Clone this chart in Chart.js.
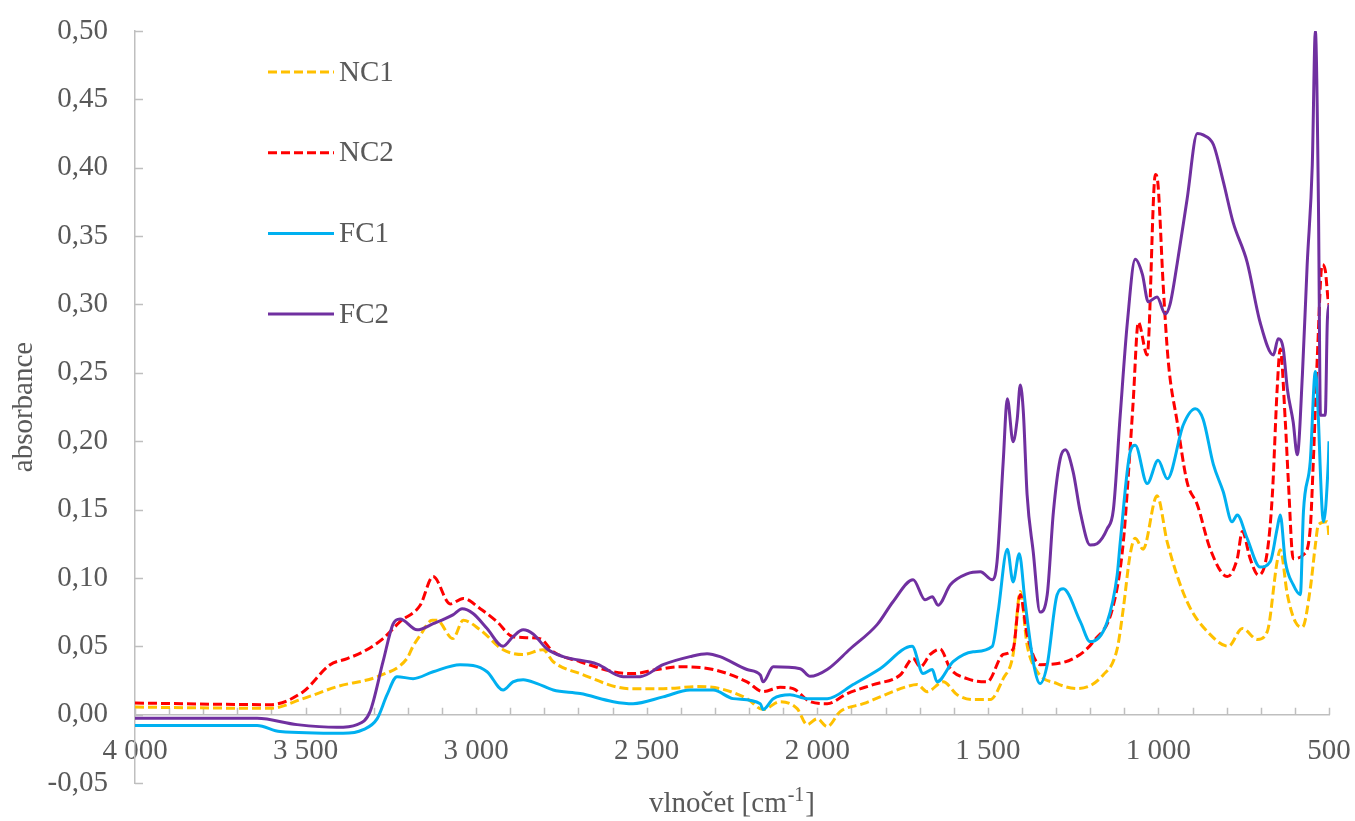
<!DOCTYPE html>
<html>
<head>
<meta charset="utf-8">
<script src="https://cdn.jsdelivr.net/npm/chart.js@4.4.1/dist/chart.umd.min.js"></script>
<style>
  body { margin: 0; background: #fff; }
  #wrap { width: 1355px; height: 821px; }
</style>
</head>
<body>
<div id="wrap"><canvas id="ftir" width="1355" height="821"></canvas></div>
<script>
// FTIR spektra
const nc1Wn  = [4000, 3604, 3507, 3408, 3282, 3203, 3185, 3164, 3129, 3115, 3068, 3038, 2988, 2921, 2862, 2804, 2774, 2695, 2549, 2452, 2352, 2285, 2206, 2159, 2109, 2059, 2030, 2000, 1971, 1933, 1865, 1816, 1737, 1707, 1678, 1631, 1590, 1543, 1493, 1455, 1426, 1405, 1385, 1355, 1297, 1238, 1162, 1121, 1103, 1083, 1068, 1045, 1004, 974, 916, 848, 795, 754, 710, 681, 652, 643, 622, 599, 578, 555, 540, 531, 505, 500];
const nc1Abs = [0.0055, 0.0046, 0.0117, 0.0205, 0.0285, 0.041, 0.050, 0.058, 0.069, 0.069, 0.0556, 0.069, 0.062, 0.0475, 0.044, 0.0475, 0.0387, 0.030, 0.019, 0.019, 0.0205, 0.019, 0.0117, 0.0037, 0.0095, 0.0044, -0.0073, -0.003, -0.0088, 0.0022, 0.008, 0.013, 0.0205, 0.022, 0.0168, 0.024, 0.0146, 0.011, 0.011, 0.0263, 0.044, 0.090, 0.051, 0.0314, 0.0227, 0.019, 0.029, 0.048, 0.0775, 0.117, 0.129, 0.121, 0.160, 0.126, 0.0826, 0.0585, 0.050, 0.063, 0.055, 0.0607, 0.112, 0.1206, 0.0877, 0.068, 0.064, 0.092, 0.124, 0.139, 0.141, 0.13];

const nc2Wn  = [4000, 3604, 3507, 3428, 3378, 3331, 3273, 3223, 3164, 3126, 3076, 3038, 2988, 2939, 2892, 2813, 2774, 2695, 2598, 2540, 2469, 2402, 2305, 2206, 2159, 2109, 2071, 2021, 1971, 1912, 1836, 1757, 1719, 1698, 1669, 1640, 1610, 1561, 1502, 1455, 1426, 1405, 1385, 1347, 1250, 1191, 1132, 1103, 1083, 1074, 1059, 1033, 1009, 1001, 986, 971, 945, 916, 886, 848, 798, 769, 754, 731, 707, 681, 666, 652, 643, 628, 619, 605, 575, 555, 546, 534, 520, 511, 502, 500];
const nc2Abs = [0.0085, 0.0073, 0.0168, 0.0365, 0.041, 0.046, 0.0556, 0.068, 0.080, 0.101, 0.081, 0.085, 0.0775, 0.068, 0.057, 0.0556, 0.046, 0.0387, 0.0314, 0.030, 0.033, 0.035, 0.033, 0.024, 0.0168, 0.020, 0.019, 0.0095, 0.008, 0.0154, 0.022, 0.029, 0.041, 0.035, 0.044, 0.048, 0.0336, 0.0263, 0.024, 0.044, 0.048, 0.0877, 0.0585, 0.0365, 0.041, 0.0534, 0.080, 0.126, 0.1945, 0.229, 0.287, 0.263, 0.395, 0.387, 0.314, 0.258, 0.214, 0.170, 0.1535, 0.121, 0.101, 0.114, 0.134, 0.114, 0.102, 0.119, 0.161, 0.238, 0.2675, 0.214, 0.17, 0.114, 0.117, 0.136, 0.185, 0.263, 0.329, 0.325, 0.302, 0.30];

const fc1Wn  = [4000, 3642, 3575, 3390, 3331, 3290, 3261, 3232, 3185, 3126, 3047, 3009, 2968, 2921, 2892, 2862, 2821, 2774, 2695, 2598, 2540, 2452, 2373, 2305, 2247, 2167, 2159, 2129, 2080, 2030, 1971, 1895, 1816, 1722, 1690, 1663, 1649, 1602, 1543, 1487, 1470, 1443, 1426, 1408, 1391, 1367, 1347, 1326, 1297, 1279, 1229, 1200, 1150, 1121, 1112, 1083, 1068, 1033, 1001, 974, 927, 892, 869, 839, 810, 784, 769, 740, 702, 672, 652, 643, 628, 605, 584, 575, 555, 540, 516, 502, 500];
const fc1Abs = [-0.008, -0.008, -0.0124, -0.0137, -0.011, -0.0029, 0.0146, 0.0278, 0.0263, 0.0314, 0.0365, 0.036, 0.0314, 0.018, 0.024, 0.0256, 0.0227, 0.018, 0.0154, 0.0095, 0.008, 0.013, 0.018, 0.018, 0.0117, 0.008, 0.0037, 0.0117, 0.0146, 0.0117, 0.0117, 0.022, 0.0336, 0.050, 0.030, 0.033, 0.024, 0.0387, 0.046, 0.050, 0.075, 0.121, 0.097, 0.1177, 0.0826, 0.0387, 0.0227, 0.0365, 0.0877, 0.092, 0.068, 0.0534, 0.068, 0.102, 0.126, 0.192, 0.197, 0.169, 0.186, 0.1725, 0.212, 0.2237, 0.216, 0.183, 0.163, 0.141, 0.146, 0.129, 0.108, 0.112, 0.136, 0.146, 0.112, 0.095, 0.0877, 0.148, 0.185, 0.251, 0.141, 0.185, 0.20];

const fc2Wn  = [4000, 3642, 3525, 3408, 3349, 3311, 3273, 3244, 3223, 3173, 3126, 3068, 3041, 3009, 2968, 2921, 2892, 2862, 2833, 2792, 2745, 2645, 2569, 2519, 2452, 2373, 2323, 2285, 2206, 2167, 2159, 2129, 2050, 2021, 1971, 1904, 1824, 1778, 1719, 1684, 1663, 1646, 1610, 1561, 1522, 1487, 1473, 1455, 1443, 1426, 1414, 1405, 1396, 1385, 1367, 1347, 1326, 1308, 1288, 1273, 1250, 1229, 1200, 1180, 1150, 1132, 1112, 1091, 1068, 1047, 1030, 1004, 980, 966, 945, 916, 886, 869, 839, 810, 781, 740, 702, 663, 649, 634, 622, 605, 593, 578, 564, 549, 540, 531, 525, 511, 505, 500];
const fc2Abs = [-0.0027, -0.0027, -0.0073, -0.0093, -0.0073, 0.0022, 0.0387, 0.066, 0.070, 0.062, 0.0665, 0.073, 0.0775, 0.074, 0.063, 0.050, 0.057, 0.062, 0.059, 0.048, 0.0424, 0.037, 0.0278, 0.0278, 0.0365, 0.0424, 0.0446, 0.0424, 0.033, 0.029, 0.024, 0.035, 0.0336, 0.028, 0.033, 0.048, 0.066, 0.0826, 0.0987, 0.084, 0.0863, 0.080, 0.095, 0.103, 0.1045, 0.0987, 0.112, 0.185, 0.231, 0.1996, 0.216, 0.241, 0.2215, 0.161, 0.119, 0.075, 0.0877, 0.148, 0.187, 0.1937, 0.1776, 0.148, 0.124, 0.125, 0.136, 0.150, 0.219, 0.287, 0.333, 0.322, 0.302, 0.3055, 0.293, 0.30, 0.33, 0.377, 0.425, 0.424, 0.417, 0.390, 0.360, 0.331, 0.287, 0.263, 0.275, 0.2675, 0.238, 0.214, 0.190, 0.2485, 0.329, 0.402, 0.50, 0.375, 0.219, 0.219, 0.287, 0.30];

const seriesNames = ['NC1', 'NC2', 'FC1', 'FC2'];

const FONT = 'Liberation Serif';
const TXT = '#595959';
const AXIS = '#bfbfbf';

function toPoints(xs, ys) {
  return xs.map((x, i) => ({ x: x, y: ys[i] }));
}

function fmtWn(v) {
  if (v >= 1000) {
    return Math.floor(v / 1000) + ' ' + String(v % 1000).padStart(3, '0');
  }
  return String(v);
}

function fmtAbs(v) {
  return v.toFixed(2).replace('.', ',');
}

// popisky nesmi zmensovat plochu grafu
function noLabelPadding(scale) {
  scale.paddingLeft = 0;
  scale.paddingRight = 0;
  scale.paddingTop = 0;
  scale.paddingBottom = 0;
}

// male carky dovnitr grafu
const tickMarks = {
  id: 'tickMarks',
  beforeDatasetsDraw(chart) {
    const { ctx, scales: { x, y } } = chart;
    const y0 = y.getPixelForValue(0);
    const left = chart.chartArea.left;
    ctx.save();
    ctx.strokeStyle = AXIS;
    ctx.lineWidth = 1.5;
    ctx.beginPath();
    x.ticks.forEach(t => {
      const px = Math.round(x.getPixelForValue(t.value)) + 0.5;
      ctx.moveTo(px, y0);
      ctx.lineTo(px, y0 - 7);
    });
    y.ticks.forEach(t => {
      const py = Math.round(y.getPixelForValue(t.value)) + 0.5;
      ctx.moveTo(left, py);
      ctx.lineTo(left + 8, py);
    });
    ctx.stroke();
    ctx.restore();
  }
};

// legenda uvnitr grafu
const innerLegend = {
  id: 'innerLegend',
  afterDatasetsDraw(chart) {
    const ctx = chart.ctx;
    ctx.save();
    chart.data.datasets.forEach((ds, i) => {
      const yy = 72 + i * 80.7;
      ctx.strokeStyle = ds.borderColor;
      ctx.lineWidth = ds.borderWidth;
      ctx.setLineDash(ds.borderDash || []);
      ctx.beginPath();
      ctx.moveTo(268, yy);
      ctx.lineTo(334, yy);
      ctx.stroke();
      ctx.setLineDash([]);
      ctx.fillStyle = TXT;
      ctx.font = '29px "' + FONT + '"';
      ctx.textAlign = 'left';
      ctx.textBaseline = 'middle';
      ctx.fillText(ds.label, 339, yy + 1);
    });
    ctx.restore();
  }
};

// popisek osy x s hornim indexem
const xTitle = {
  id: 'xTitle',
  afterDraw(chart) {
    const ctx = chart.ctx;
    const a = chart.chartArea;
    const main1 = 'vlnočet [cm';
    const sup = '-1';
    const main2 = ']';
    ctx.save();
    ctx.fillStyle = TXT;
    ctx.textBaseline = 'alphabetic';
    ctx.textAlign = 'left';
    ctx.font = '29px "' + FONT + '"';
    const w1 = ctx.measureText(main1).width;
    const w3 = ctx.measureText(main2).width;
    ctx.font = '20px "' + FONT + '"';
    const w2 = ctx.measureText(sup).width + 2;
    let xx = (a.left + a.right) / 2 - (w1 + w2 + w3) / 2;
    const base = 812;
    ctx.font = '29px "' + FONT + '"';
    ctx.fillText(main1, xx, base);
    xx += w1 + 1;
    ctx.font = '20px "' + FONT + '"';
    ctx.fillText(sup, xx, base - 11);
    xx += w2 - 1;
    ctx.font = '29px "' + FONT + '"';
    ctx.fillText(main2, xx, base);
    ctx.restore();
  }
};

new Chart(document.getElementById('ftir'), {
  type: 'line',
  data: {
    datasets: [
      { label: seriesNames[0], data: toPoints(nc1Wn, nc1Abs), borderColor: '#ffc000', borderWidth: 3, borderDash: [9, 4], order: 4 },
      { label: seriesNames[1], data: toPoints(nc2Wn, nc2Abs), borderColor: '#ff0000', borderWidth: 3, borderDash: [9, 4], order: 3 },
      { label: seriesNames[2], data: toPoints(fc1Wn, fc1Abs), borderColor: '#00b0f0', borderWidth: 3, order: 2 },
      { label: seriesNames[3], data: toPoints(fc2Wn, fc2Abs), borderColor: '#7030a0', borderWidth: 3, order: 1 }
    ]
  },
  options: {
    responsive: false,
    animation: false,
    devicePixelRatio: 1,
    layout: { padding: { left: 0, right: 26, top: 31, bottom: 38 } },
    elements: {
      point: { radius: 0 },
      line: { cubicInterpolationMode: 'monotone', borderJoinStyle: 'round' }
    },
    plugins: {
      legend: { display: false },
      tooltip: { enabled: false }
    },
    scales: {
      x: {
        type: 'linear',
        min: 500,
        max: 4000,
        reverse: true,
        position: { y: 0 },
        afterFit(scale) { noLabelPadding(scale); },
        grid: { display: false, drawTicks: false },
        border: { display: true, color: AXIS, width: 1.5 },
        ticks: {
          stepSize: 100,
          autoSkip: false,
          maxRotation: 0,
          padding: 19,
          color: TXT,
          font: { family: FONT, size: 29 },
          callback: v => (v % 500 === 0 ? fmtWn(v) : '')
        }
      },
      y: {
        min: -0.05,
        max: 0.5,
        afterFit(scale) { scale.width = 135; noLabelPadding(scale); },
        grid: { display: false, drawTicks: false },
        border: { display: true, color: AXIS, width: 1.5 },
        ticks: {
          stepSize: 0.05,
          padding: 27,
          color: TXT,
          font: { family: FONT, size: 29 },
          callback: v => fmtAbs(v)
        },
        title: {
          display: true,
          text: 'absorbance',
          color: TXT,
          font: { family: FONT, size: 29 },
          padding: { top: 7, bottom: 0 }
        }
      }
    }
  },
  plugins: [tickMarks, innerLegend, xTitle]
});
</script>
</body>
</html>
